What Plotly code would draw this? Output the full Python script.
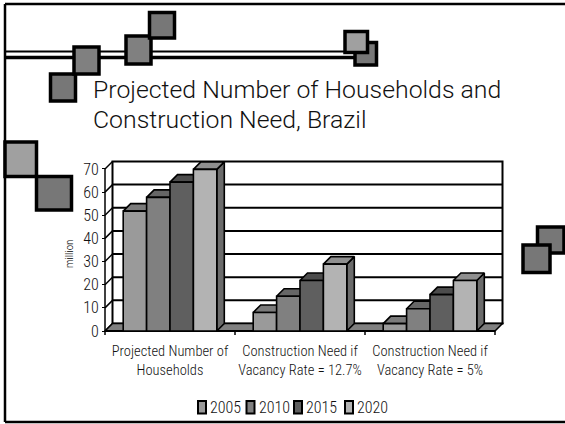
import plotly.graph_objects as go

# ---------------- data ----------------
categories = ["Projected Number of<br>Households",
              "Construction Need if<br>Vacancy Rate = 12.7%",
              "Construction Need if<br>Vacancy Rate = 5%"]
years = ["2005", "2010", "2015", "2020"]
v2005 = [51.8, 8.0, 3.2]
v2010 = [57.7, 15.0, 9.6]
v2015 = [64.3, 21.8, 15.7]
v2020 = [69.8, 28.9, 21.8]
y_ticks = [0, 10, 20, 30, 40, 50, 60, 70]
title_line1 = "Projected Number of Households and"
title_line2 = "Construction Need, Brazil"
y_title = "million"

series = [v2005, v2010, v2015, v2020]

# ---------------- styles / geometry ----------------
W, H = 565, 424
X0_PX, CAT_PX = 105.0, 130.0       # front-left corner, category width
Y0_PX, UNIT_PX = 331.0, 2.315      # front zero line, px per unit
DEPTH_PX = 7.5
BAR_W = 0.18
GAP = (1 - 4 * BAR_W) / 2
YMAX = 70

front_cols = ["#9a9a9a", "#808080", "#5f5f5f", "#b3b3b3"]


def shade(hexc, f):
    r, g, b = int(hexc[1:3], 16), int(hexc[3:5], 16), int(hexc[5:7], 16)
    return "#%02x%02x%02x" % (int(r * f), int(g * f), int(b * f))


top_cols = [shade(c, 0.8) for c in front_cols]
side_cols = [shade(c, 0.6) for c in front_cols]

dxu = DEPTH_PX / CAT_PX
dyu = DEPTH_PX / UNIT_PX
ncat = len(categories)

FONT = "Roboto, sans-serif"
FONT_NARROW = "Liberation Sans Narrow, Arial Narrow, Roboto Condensed, Roboto, sans-serif"


def px(x):
    return x / W


def py(y):
    return 1 - y / H


fig = go.Figure()

# bars as 3D boxes (side, top, front), drawn in painter's order
for k, vals in enumerate(series):
    sx, sy, tx, ty, fx, fy = [], [], [], [], [], []
    for i, v in enumerate(vals):
        xl = i + GAP + k * BAR_W
        xr = xl + BAR_W
        sx += [xr, xr + dxu, xr + dxu, xr, xr, None]
        sy += [0, dyu, v + dyu, v, 0, None]
        tx += [xl, xr, xr + dxu, xl + dxu, xl, None]
        ty += [v, v, v + dyu, v + dyu, v, None]
        fx += [xl, xr, xr, xl, xl, None]
        fy += [0, 0, v, v, 0, None]
    for xs, ys, col in ((sx, sy, side_cols[k]), (tx, ty, top_cols[k]), (fx, fy, front_cols[k])):
        fig.add_trace(go.Scatter(x=xs, y=ys, mode="lines", fill="toself",
                                 fillcolor=col, line=dict(color="black", width=1.6),
                                 hoverinfo="skip", showlegend=False, name=years[k]))

shapes = []
# back wall
shapes.append(dict(type="rect", xref="x", yref="y", x0=dxu, x1=ncat + dxu,
                   y0=dyu, y1=YMAX + dyu, fillcolor="white",
                   line=dict(color="black", width=2), layer="below"))
# gridlines on back wall + left wall diagonals
for t in y_ticks:
    if 0 < t < YMAX:
        shapes.append(dict(type="line", xref="x", yref="y", x0=dxu, x1=ncat + dxu,
                           y0=t + dyu, y1=t + dyu, line=dict(color="black", width=2), layer="below"))
    shapes.append(dict(type="line", xref="x", yref="y", x0=0, x1=dxu,
                       y0=t, y1=t + dyu, line=dict(color="black", width=1.5), layer="below"))
# front-left edge (value axis line)
shapes.append(dict(type="line", xref="x", yref="y", x0=0, x1=0, y0=0, y1=YMAX,
                   line=dict(color="black", width=1.5), layer="below"))
# floor
shapes.append(dict(type="path", xref="x", yref="y",
                   path="M0,0 L%f,0 L%f,%f L%f,%f Z" % (ncat, ncat + dxu, dyu, dxu, dyu),
                   fillcolor="#808080", line=dict(color="black", width=1.5), layer="below"))
# category axis line + boundary ticks
shapes.append(dict(type="line", xref="x", yref="y", x0=0, x1=ncat, y0=0, y1=0,
                   line=dict(color="black", width=2), layer="below"))
for b in range(ncat + 1):
    shapes.append(dict(type="line", xref="x", yref="y", x0=b, x1=b, y0=0,
                       y1=-4 / UNIT_PX, line=dict(color="black", width=1.5), layer="below"))

# slide frame
shapes.append(dict(type="line", xref="paper", yref="paper", x0=px(5), x1=px(5),
                   y0=py(4), y1=py(422), line=dict(color="black", width=2.5)))
shapes.append(dict(type="line", xref="paper", yref="paper", x0=px(5), x1=1,
                   y0=py(4), y1=py(4), line=dict(color="black", width=2.5)))
shapes.append(dict(type="line", xref="paper", yref="paper", x0=px(5), x1=1,
                   y0=py(422), y1=py(422), line=dict(color="black", width=2.5)))
# double rule
shapes.append(dict(type="line", xref="paper", yref="paper", x0=px(5), x1=px(362),
                   y0=py(51.5), y1=py(51.5), line=dict(color="black", width=2)))
shapes.append(dict(type="line", xref="paper", yref="paper", x0=px(5), x1=px(362),
                   y0=py(57.5), y1=py(57.5), line=dict(color="black", width=3.5)))

# decorative squares (x0, y0, x1, y1, fill)
squares = [
    (50.5, 74, 75.5, 101, "#777777"),
    (74, 47, 99, 74, "#808080"),
    (126, 36, 151, 64, "#808080"),
    (149.5, 12.5, 174.5, 38, "#777777"),
    (355, 42.5, 376.5, 65, "#777777"),
    (345, 31.5, 367.5, 52.5, "#a0a0a0"),
    (5, 142, 36.5, 176.5, "#a0a0a0"),
    (36.5, 176.5, 71.5, 210, "#777777"),
    (537.5, 227, 564, 253, "#777777"),
    (523, 245, 550, 272.5, "#777777"),
]
for x0, y0, x1, y1, c in squares:
    shapes.append(dict(type="rect", xref="paper", yref="paper", x0=px(x0), x1=px(x1),
                       y0=py(y0), y1=py(y1), fillcolor=c, line=dict(color="black", width=3.5)))

annotations = []
annotations.append(dict(text=title_line1, xref="paper", yref="paper", x=px(91), y=py(89.5),
                        xanchor="left", yanchor="middle", showarrow=False,
                        font=dict(family=FONT, size=24.8, color="#111111", weight=300)))
annotations.append(dict(text=title_line2, xref="paper", yref="paper", x=px(91), y=py(119.5),
                        xanchor="left", yanchor="middle", showarrow=False,
                        font=dict(family=FONT, size=24.8, color="#111111", weight=300)))
annotations.append(dict(text=y_title, xref="paper", yref="paper", x=px(69), y=py(254),
                        xanchor="center", yanchor="middle", showarrow=False, textangle=-90,
                        font=dict(family=FONT_NARROW, size=11, color="black", weight=300)))

# manual legend
leg_x = [198, 246.5, 294, 345]
for k, yr in enumerate(years):
    x = leg_x[k]
    shapes.append(dict(type="rect", xref="paper", yref="paper", x0=px(x), x1=px(x + 8),
                       y0=py(401), y1=py(413.5), fillcolor=front_cols[k],
                       line=dict(color="black", width=2)))
    annotations.append(dict(text=yr, xref="paper", yref="paper", x=px(x + 10), y=py(407.5),
                            xanchor="left", yanchor="middle", showarrow=False,
                            font=dict(family=FONT_NARROW, size=16, color="#111111", weight=300)))

fig.update_layout(
    width=W, height=H, autosize=False,
    margin=dict(l=0, r=0, t=0, b=0),
    paper_bgcolor="white", plot_bgcolor="rgba(0,0,0,0)",
    showlegend=False,
    shapes=shapes, annotations=annotations,
    xaxis=dict(range=[-X0_PX / CAT_PX, (W - X0_PX) / CAT_PX], domain=[0, 1],
               anchor="free", position=(H - Y0_PX) / H,
               tickvals=[i + 0.5 for i in range(ncat)], ticktext=categories,
               tickangle=0,
               ticks="outside", ticklen=7, tickcolor="rgba(0,0,0,0)",
               showgrid=False, zeroline=False, showline=False,
               tickfont=dict(family=FONT_NARROW, size=14.5, color="#111111", weight=300),
               automargin=False, fixedrange=True),
    yaxis=dict(range=[(Y0_PX - H) / UNIT_PX, Y0_PX / UNIT_PX], domain=[0, 1],
               anchor="free", position=X0_PX / W,
               tickvals=y_ticks, ticks="outside", ticklen=3, tickcolor="black",
               showgrid=False, zeroline=False, showline=False,
               tickfont=dict(family=FONT_NARROW, size=16, color="#111111", weight=300),
               automargin=False, fixedrange=True),
)

fig.write_html("out.html")
